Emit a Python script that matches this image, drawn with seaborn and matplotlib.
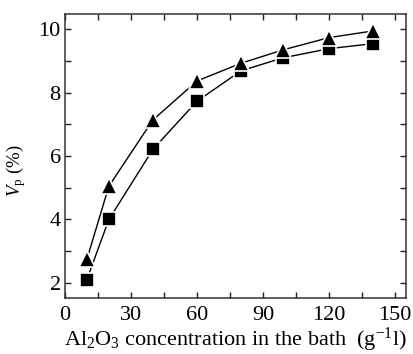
import matplotlib
matplotlib.use("Agg")
import matplotlib.pyplot as plt
import seaborn as sns
import pandas as pd
from matplotlib.ticker import MultipleLocator

# Al2O3 concentration in the bath (g/l)
concentration = [10, 20, 40, 60, 80, 99, 120, 140]
# Particle volume fraction Vp (%) for the two deposit series
vp_squares = [2.10, 4.00, 6.21, 7.73, 8.69, 9.10, 9.39, 9.55]
vp_triangles = [2.74, 5.05, 7.14, 8.37, 8.93, 9.35, 9.74, 9.95]

sns.set_theme(style="ticks")
plt.rcParams["font.family"] = ["Liberation Serif", "DejaVu Serif"]
plt.rcParams["mathtext.fontset"] = "custom"
plt.rcParams["mathtext.rm"] = "Liberation Serif"
plt.rcParams["mathtext.it"] = "Liberation Serif:italic"
plt.rcParams["text.color"] = "black"
plt.rcParams["axes.labelcolor"] = "black"

df_sq = pd.DataFrame({"conc": concentration, "vp": vp_squares})
df_tri = pd.DataFrame({"conc": concentration, "vp": vp_triangles})

fig = plt.figure(figsize=(4.13, 3.54), dpi=100)
ax = fig.add_axes([0.157, 0.158, 0.826, 0.802])

sns.lineplot(data=df_sq, x="conc", y="vp", ax=ax, color="black", lw=1.0,
             marker="s", markersize=9.5, markerfacecolor="black",
             markeredgecolor="white", markeredgewidth=1.2)
sns.lineplot(data=df_tri, x="conc", y="vp", ax=ax, color="black", lw=1.0,
             marker="^", markersize=12, markerfacecolor="black",
             markeredgecolor="white", markeredgewidth=1.2)

ax.set_xlim(0, 155)
ax.set_ylim(1.52, 10.48)
ax.xaxis.set_major_locator(MultipleLocator(30))
ax.xaxis.set_minor_locator(MultipleLocator(15))
ax.yaxis.set_major_locator(MultipleLocator(2))
ax.yaxis.set_minor_locator(MultipleLocator(1))

ax.tick_params(which="both", direction="in", top=True, right=True,
               colors="#222222", labelcolor="black", width=1.0, length=4.5)
ax.tick_params(which="major", labelsize=16, pad=3)
ax.tick_params(axis="x", which="major", pad=6)
for sp in ax.spines.values():
    sp.set_color("#333333")
    sp.set_linewidth(1.1)

ax.set_xlabel(r"Al$_2$O$_3$ concentration in the bath  (g$^{-1}$l)",
              fontsize=16)
ax.xaxis.set_label_coords(0.5, -0.098)
ax.set_ylabel(r"$V_{\rm p}$ (%)", fontsize=13.5)
ax.yaxis.set_label_coords(-0.108, 0.447)

fig.savefig("out.png", dpi=100)
